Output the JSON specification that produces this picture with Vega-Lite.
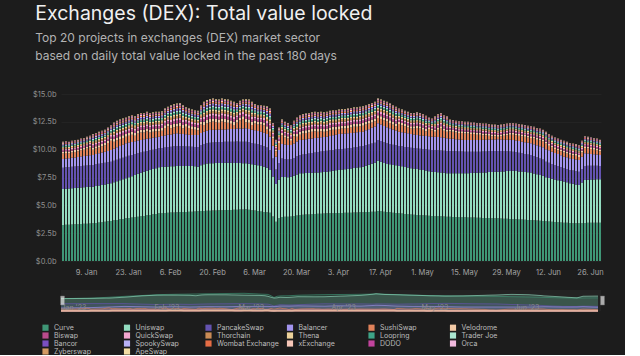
{
"$schema": "https://vega.github.io/schema/vega-lite/v6.json",
"background": "#1c1c1c",
"padding": {"left": 32, "top": 3, "right": 20, "bottom": 0},
"title": {"text": "Exchanges (DEX): Total value locked", "subtitle": ["Top 20 projects in exchanges (DEX) market sector", "based on daily total value locked in the past 180 days"], "anchor": "start", "frame": "bounds", "font": "Inter", "fontSize": 19.5, "fontWeight": 400, "color": "#f0f0f0", "subtitleFont": "Inter", "subtitleFontSize": 12, "subtitleColor": "#b3b3b3", "subtitleLineHeight": 18, "subtitlePadding": 9, "offset": 27, "dx": 3},
"datasets": {
"levels": [
{"L":"A","f":16,"g":13,"h":10,"i":10,"j":8,"k":8,"l":7,"m":6,"n":6,"o":5,"p":5,"q":4,"r":3,"s":2,"t":2},
{"L":"B","f":20,"g":17,"h":14,"i":13,"j":11,"k":11,"l":10,"m":8,"n":8,"o":7,"p":6,"q":5,"r":4,"s":3,"t":3},
{"L":"C","f":25,"g":21,"h":18,"i":16,"j":14,"k":13,"l":12,"m":10,"n":10,"o":9,"p":8,"q":6,"r":5,"s":4,"t":4},
{"L":"D","f":29,"g":25,"h":21,"i":19,"j":17,"k":16,"l":14,"m":12,"n":12,"o":11,"p":9,"q":7,"r":6,"s":5,"t":5}
],
"names": [
{"k":"a","name":"Curve","rank":1},{"k":"b","name":"Uniswap","rank":2},{"k":"c","name":"PancakeSwap","rank":3},{"k":"d","name":"Balancer","rank":4},{"k":"e","name":"SushiSwap","rank":5},{"k":"f","name":"Velodrome","rank":6},{"k":"g","name":"Biswap","rank":7},{"k":"h","name":"QuickSwap","rank":8},{"k":"i","name":"Thorchain","rank":9},{"k":"j","name":"Thena","rank":10},{"k":"k","name":"Loopring","rank":11},{"k":"l","name":"Trader Joe","rank":12},{"k":"m","name":"Bancor","rank":13},{"k":"n","name":"SpookySwap","rank":14},{"k":"o","name":"Wombat Exchange","rank":15},{"k":"p","name":"xExchange","rank":16},{"k":"q","name":"DODO","rank":17},{"k":"r","name":"Orca","rank":18},{"k":"s","name":"Zyberswap","rank":19},{"k":"t","name":"ApeSwap","rank":20}
],
"tvl": [
{"x":"2023-01-01","a":323,"b":324,"c":191,"d":78,"e":49,"L":"A"},
{"x":"2023-01-02","a":325,"b":325,"c":191,"d":79,"e":50,"L":"A"},
{"x":"2023-01-03","a":326,"b":325,"c":192,"d":80,"e":44,"L":"A"},
{"x":"2023-01-04","a":328,"b":326,"c":192,"d":81,"e":48,"L":"A"},
{"x":"2023-01-05","a":329,"b":326,"c":193,"d":82,"e":50,"L":"A"},
{"x":"2023-01-06","a":331,"b":327,"c":193,"d":84,"e":50,"L":"A"},
{"x":"2023-01-07","a":332,"b":328,"c":193,"d":85,"e":57,"L":"A"},
{"x":"2023-01-08","a":334,"b":328,"c":194,"d":86,"e":58,"L":"A"},
{"x":"2023-01-09","a":335,"b":329,"c":194,"d":87,"e":65,"L":"A"},
{"x":"2023-01-10","a":337,"b":329,"c":195,"d":88,"e":71,"L":"A"},
{"x":"2023-01-11","a":338,"b":330,"c":195,"d":89,"e":48,"L":"B"},
{"x":"2023-01-12","a":342,"b":331,"c":195,"d":92,"e":50,"L":"B"},
{"x":"2023-01-13","a":345,"b":333,"c":195,"d":94,"e":53,"L":"B"},
{"x":"2023-01-14","a":349,"b":334,"c":195,"d":97,"e":55,"L":"B"},
{"x":"2023-01-15","a":353,"b":335,"c":194,"d":100,"e":58,"L":"B"},
{"x":"2023-01-16","a":356,"b":337,"c":194,"d":102,"e":71,"L":"B"},
{"x":"2023-01-17","a":360,"b":338,"c":194,"d":105,"e":83,"L":"B"},
{"x":"2023-01-18","a":365,"b":342,"c":194,"d":108,"e":61,"L":"C"},
{"x":"2023-01-19","a":369,"b":347,"c":194,"d":111,"e":64,"L":"C"},
{"x":"2023-01-20","a":374,"b":351,"c":194,"d":114,"e":62,"L":"C"},
{"x":"2023-01-21","a":378,"b":356,"c":194,"d":117,"e":60,"L":"C"},
{"x":"2023-01-22","a":383,"b":360,"c":194,"d":120,"e":58,"L":"C"},
{"x":"2023-01-23","a":387,"b":366,"c":192,"d":119,"e":61,"L":"C"},
{"x":"2023-01-24","a":390,"b":372,"c":189,"d":117,"e":67,"L":"C"},
{"x":"2023-01-25","a":394,"b":379,"c":187,"d":116,"e":49,"L":"C"},
{"x":"2023-01-26","a":398,"b":385,"c":185,"d":114,"e":63,"L":"C"},
{"x":"2023-01-27","a":401,"b":391,"c":182,"d":113,"e":68,"L":"C"},
{"x":"2023-01-28","a":405,"b":397,"c":180,"d":111,"e":62,"L":"C"},
{"x":"2023-01-29","a":410,"b":400,"c":178,"d":110,"e":67,"L":"C"},
{"x":"2023-01-30","a":414,"b":404,"c":176,"d":109,"e":52,"L":"C"},
{"x":"2023-01-31","a":419,"b":407,"c":174,"d":108,"e":52,"L":"C"},
{"x":"2023-02-01","a":423,"b":411,"c":172,"d":106,"e":53,"L":"C"},
{"x":"2023-02-02","a":428,"b":414,"c":170,"d":105,"e":48,"L":"C"},
{"x":"2023-02-03","a":430,"b":414,"c":172,"d":107,"e":47,"L":"C"},
{"x":"2023-02-04","a":431,"b":415,"c":173,"d":108,"e":68,"L":"C"},
{"x":"2023-02-05","a":433,"b":415,"c":175,"d":110,"e":77,"L":"C"},
{"x":"2023-02-06","a":435,"b":415,"c":176,"d":111,"e":55,"L":"D"},
{"x":"2023-02-07","a":436,"b":416,"c":178,"d":113,"e":59,"L":"D"},
{"x":"2023-02-08","a":438,"b":416,"c":179,"d":114,"e":60,"L":"D"},
{"x":"2023-02-09","a":439,"b":415,"c":178,"d":112,"e":68,"L":"D"},
{"x":"2023-02-10","a":440,"b":414,"c":177,"d":110,"e":51,"L":"D"},
{"x":"2023-02-11","a":441,"b":413,"c":175,"d":109,"e":67,"L":"C"},
{"x":"2023-02-12","a":442,"b":412,"c":174,"d":107,"e":60,"L":"C"},
{"x":"2023-02-13","a":443,"b":411,"c":173,"d":105,"e":53,"L":"C"},
{"x":"2023-02-14","a":445,"b":405,"c":175,"d":107,"e":48,"L":"C"},
{"x":"2023-02-15","a":446,"b":400,"c":177,"d":108,"e":44,"L":"C"},
{"x":"2023-02-16","a":448,"b":412,"c":179,"d":110,"e":76,"L":"C"},
{"x":"2023-02-17","a":449,"b":421,"c":181,"d":111,"e":60,"L":"D"},
{"x":"2023-02-18","a":451,"b":424,"c":183,"d":113,"e":66,"L":"D"},
{"x":"2023-02-19","a":452,"b":426,"c":185,"d":114,"e":70,"L":"D"},
{"x":"2023-02-20","a":453,"b":426,"c":186,"d":114,"e":73,"L":"D"},
{"x":"2023-02-21","a":454,"b":426,"c":186,"d":113,"e":68,"L":"D"},
{"x":"2023-02-22","a":455,"b":426,"c":187,"d":113,"e":61,"L":"D"},
{"x":"2023-02-23","a":456,"b":425,"c":188,"d":112,"e":71,"L":"D"},
{"x":"2023-02-24","a":457,"b":425,"c":188,"d":112,"e":65,"L":"D"},
{"x":"2023-02-25","a":458,"b":425,"c":189,"d":111,"e":59,"L":"D"},
{"x":"2023-02-26","a":459,"b":423,"c":190,"d":113,"e":47,"L":"D"},
{"x":"2023-02-27","a":460,"b":421,"c":191,"d":114,"e":36,"L":"D"},
{"x":"2023-02-28","a":461,"b":420,"c":192,"d":116,"e":56,"L":"C"},
{"x":"2023-03-01","a":462,"b":418,"c":192,"d":117,"e":76,"L":"C"},
{"x":"2023-03-02","a":463,"b":416,"c":193,"d":119,"e":84,"L":"C"},
{"x":"2023-03-03","a":464,"b":414,"c":194,"d":120,"e":55,"L":"D"},
{"x":"2023-03-04","a":460,"b":413,"c":193,"d":120,"e":56,"L":"D"},
{"x":"2023-03-05","a":456,"b":412,"c":192,"d":120,"e":42,"L":"D"},
{"x":"2023-03-06","a":453,"b":411,"c":190,"d":120,"e":61,"L":"C"},
{"x":"2023-03-07","a":449,"b":410,"c":189,"d":120,"e":57,"L":"C"},
{"x":"2023-03-08","a":445,"b":409,"c":188,"d":120,"e":63,"L":"C"},
{"x":"2023-03-09","a":441,"b":405,"c":185,"d":120,"e":69,"L":"C"},
{"x":"2023-03-10","a":438,"b":400,"c":182,"d":120,"e":42,"L":"D"},
{"x":"2023-03-11","a":434,"b":384,"c":179,"d":120,"e":45,"L":"D"},
{"x":"2023-03-12","a":400,"b":360,"c":160,"d":115,"e":65,"L":"B"},
{"x":"2023-03-13","a":353,"b":339,"c":130,"d":115,"e":48,"L":"A"},
{"x":"2023-03-14","a":385,"b":345,"c":150,"d":118,"e":62,"L":"B"},
{"x":"2023-03-15","a":395,"b":360,"c":165,"d":130,"e":80,"L":"B"},
{"x":"2023-03-16","a":397,"b":357,"c":163,"d":130,"e":63,"L":"B"},
{"x":"2023-03-17","a":398,"b":354,"c":160,"d":130,"e":58,"L":"B"},
{"x":"2023-03-18","a":400,"b":356,"c":158,"d":128,"e":38,"L":"B"},
{"x":"2023-03-19","a":404,"b":362,"c":160,"d":130,"e":64,"L":"B"},
{"x":"2023-03-20","a":409,"b":369,"c":162,"d":133,"e":42,"L":"C"},
{"x":"2023-03-21","a":413,"b":375,"c":164,"d":135,"e":48,"L":"C"},
{"x":"2023-03-22","a":415,"b":374,"c":167,"d":134,"e":55,"L":"C"},
{"x":"2023-03-23","a":417,"b":374,"c":170,"d":133,"e":56,"L":"C"},
{"x":"2023-03-24","a":418,"b":373,"c":174,"d":132,"e":58,"L":"C"},
{"x":"2023-03-25","a":420,"b":373,"c":177,"d":131,"e":59,"L":"C"},
{"x":"2023-03-26","a":422,"b":372,"c":180,"d":130,"e":61,"L":"C"},
{"x":"2023-03-27","a":424,"b":372,"c":182,"d":129,"e":53,"L":"C"},
{"x":"2023-03-28","a":425,"b":373,"c":185,"d":128,"e":54,"L":"C"},
{"x":"2023-03-29","a":427,"b":373,"c":187,"d":127,"e":46,"L":"C"},
{"x":"2023-03-30","a":428,"b":374,"c":189,"d":126,"e":48,"L":"C"},
{"x":"2023-03-31","a":429,"b":377,"c":188,"d":129,"e":52,"L":"C"},
{"x":"2023-04-01","a":430,"b":380,"c":188,"d":132,"e":50,"L":"C"},
{"x":"2023-04-02","a":431,"b":383,"c":187,"d":134,"e":45,"L":"C"},
{"x":"2023-04-03","a":432,"b":386,"c":186,"d":137,"e":44,"L":"C"},
{"x":"2023-04-04","a":432,"b":389,"c":186,"d":136,"e":47,"L":"C"},
{"x":"2023-04-05","a":433,"b":391,"c":185,"d":136,"e":45,"L":"C"},
{"x":"2023-04-06","a":433,"b":394,"c":185,"d":135,"e":48,"L":"C"},
{"x":"2023-04-07","a":434,"b":397,"c":185,"d":134,"e":50,"L":"C"},
{"x":"2023-04-08","a":435,"b":400,"c":185,"d":133,"e":52,"L":"C"},
{"x":"2023-04-09","a":436,"b":403,"c":186,"d":131,"e":49,"L":"C"},
{"x":"2023-04-10","a":437,"b":406,"c":186,"d":130,"e":51,"L":"C"},
{"x":"2023-04-11","a":438,"b":409,"c":186,"d":129,"e":53,"L":"C"},
{"x":"2023-04-12","a":439,"b":417,"c":185,"d":133,"e":51,"L":"C"},
{"x":"2023-04-13","a":440,"b":424,"c":183,"d":137,"e":51,"L":"C"},
{"x":"2023-04-14","a":442,"b":432,"c":182,"d":140,"e":49,"L":"C"},
{"x":"2023-04-15","a":443,"b":440,"c":180,"d":144,"e":48,"L":"C"},
{"x":"2023-04-16","a":450,"b":451,"c":186,"d":150,"e":48,"L":"C"},
{"x":"2023-04-17","a":447,"b":445,"c":186,"d":148,"e":49,"L":"C"},
{"x":"2023-04-18","a":443,"b":438,"c":185,"d":146,"e":53,"L":"C"},
{"x":"2023-04-19","a":440,"b":432,"c":185,"d":144,"e":54,"L":"C"},
{"x":"2023-04-20","a":437,"b":431,"c":184,"d":140,"e":48,"L":"C"},
{"x":"2023-04-21","a":434,"b":429,"c":182,"d":136,"e":44,"L":"C"},
{"x":"2023-04-22","a":431,"b":428,"c":181,"d":133,"e":37,"L":"C"},
{"x":"2023-04-23","a":428,"b":426,"c":179,"d":129,"e":68,"L":"B"},
{"x":"2023-04-24","a":426,"b":424,"c":180,"d":127,"e":63,"L":"B"},
{"x":"2023-04-25","a":423,"b":421,"c":181,"d":126,"e":59,"L":"B"},
{"x":"2023-04-26","a":421,"b":419,"c":183,"d":124,"e":53,"L":"B"},
{"x":"2023-04-27","a":418,"b":416,"c":184,"d":122,"e":50,"L":"B"},
{"x":"2023-04-28","a":416,"b":414,"c":185,"d":121,"e":54,"L":"B"},
{"x":"2023-04-29","a":414,"b":412,"c":185,"d":121,"e":63,"L":"B"},
{"x":"2023-04-30","a":412,"b":410,"c":186,"d":120,"e":62,"L":"B"},
{"x":"2023-05-01","a":410,"b":407,"c":188,"d":120,"e":55,"L":"B"},
{"x":"2023-05-02","a":408,"b":404,"c":191,"d":120,"e":42,"L":"B"},
{"x":"2023-05-03","a":406,"b":401,"c":193,"d":120,"e":65,"L":"A"},
{"x":"2023-05-04","a":404,"b":398,"c":195,"d":120,"e":58,"L":"A"},
{"x":"2023-05-05","a":403,"b":397,"c":196,"d":119,"e":45,"L":"B"},
{"x":"2023-05-06","a":402,"b":396,"c":196,"d":119,"e":67,"L":"B"},
{"x":"2023-05-07","a":401,"b":395,"c":197,"d":118,"e":79,"L":"B"},
{"x":"2023-05-08","a":400,"b":392,"c":198,"d":116,"e":64,"L":"B"},
{"x":"2023-05-09","a":398,"b":390,"c":200,"d":114,"e":58,"L":"B"},
{"x":"2023-05-10","a":397,"b":391,"c":199,"d":112,"e":66,"L":"A"},
{"x":"2023-05-11","a":396,"b":392,"c":198,"d":111,"e":63,"L":"A"},
{"x":"2023-05-12","a":395,"b":393,"c":197,"d":109,"e":61,"L":"A"},
{"x":"2023-05-13","a":394,"b":394,"c":196,"d":108,"e":58,"L":"A"},
{"x":"2023-05-14","a":393,"b":395,"c":195,"d":106,"e":61,"L":"A"},
{"x":"2023-05-15","a":392,"b":396,"c":194,"d":105,"e":58,"L":"A"},
{"x":"2023-05-16","a":391,"b":398,"c":193,"d":105,"e":58,"L":"A"},
{"x":"2023-05-17","a":390,"b":400,"c":192,"d":105,"e":53,"L":"A"},
{"x":"2023-05-18","a":390,"b":402,"c":190,"d":105,"e":53,"L":"A"},
{"x":"2023-05-19","a":389,"b":404,"c":189,"d":105,"e":48,"L":"A"},
{"x":"2023-05-20","a":388,"b":406,"c":188,"d":105,"e":48,"L":"A"},
{"x":"2023-05-21","a":387,"b":408,"c":188,"d":105,"e":42,"L":"A"},
{"x":"2023-05-22","a":386,"b":410,"c":188,"d":105,"e":41,"L":"A"},
{"x":"2023-05-23","a":386,"b":413,"c":187,"d":105,"e":34,"L":"A"},
{"x":"2023-05-24","a":385,"b":415,"c":187,"d":105,"e":28,"L":"A"},
{"x":"2023-05-25","a":384,"b":417,"c":186,"d":105,"e":28,"L":"A"},
{"x":"2023-05-26","a":383,"b":419,"c":186,"d":105,"e":22,"L":"A"},
{"x":"2023-05-27","a":382,"b":422,"c":183,"d":105,"e":28,"L":"A"},
{"x":"2023-05-28","a":380,"b":425,"c":180,"d":105,"e":35,"L":"A"},
{"x":"2023-05-29","a":379,"b":429,"c":177,"d":105,"e":40,"L":"A"},
{"x":"2023-05-30","a":377,"b":432,"c":174,"d":105,"e":47,"L":"A"},
{"x":"2023-05-31","a":376,"b":435,"c":171,"d":105,"e":48,"L":"A"},
{"x":"2023-06-01","a":375,"b":434,"c":169,"d":105,"e":47,"L":"A"},
{"x":"2023-06-02","a":373,"b":432,"c":167,"d":105,"e":48,"L":"A"},
{"x":"2023-06-03","a":372,"b":431,"c":164,"d":105,"e":48,"L":"A"},
{"x":"2023-06-04","a":371,"b":429,"c":162,"d":105,"e":48,"L":"A"},
{"x":"2023-06-05","a":369,"b":428,"c":160,"d":105,"e":48,"L":"A"},
{"x":"2023-06-06","a":368,"b":426,"c":158,"d":105,"e":48,"L":"A"},
{"x":"2023-06-07","a":366,"b":421,"c":155,"d":106,"e":52,"L":"A"},
{"x":"2023-06-08","a":364,"b":416,"c":152,"d":108,"e":50,"L":"A"},
{"x":"2023-06-09","a":362,"b":410,"c":149,"d":109,"e":55,"L":"A"},
{"x":"2023-06-10","a":360,"b":405,"c":146,"d":110,"e":54,"L":"A"},
{"x":"2023-06-11","a":356,"b":396,"c":140,"d":112,"e":51,"L":"A"},
{"x":"2023-06-12","a":354,"b":392,"c":137,"d":111,"e":41,"L":"A"},
{"x":"2023-06-13","a":352,"b":387,"c":133,"d":110,"e":38,"L":"A"},
{"x":"2023-06-14","a":350,"b":383,"c":130,"d":108,"e":34,"L":"A"},
{"x":"2023-06-15","a":348,"b":378,"c":127,"d":107,"e":35,"L":"A"},
{"x":"2023-06-16","a":346,"b":374,"c":124,"d":106,"e":35,"L":"A"},
{"x":"2023-06-17","a":344,"b":369,"c":120,"d":104,"e":38,"L":"A"},
{"x":"2023-06-18","a":343,"b":364,"c":120,"d":104,"e":34,"L":"A"},
{"x":"2023-06-19","a":341,"b":358,"c":119,"d":104,"e":33,"L":"A"},
{"x":"2023-06-20","a":340,"b":354,"c":119,"d":104,"e":33,"L":"A"},
{"x":"2023-06-21","a":339,"b":349,"c":119,"d":105,"e":33,"L":"A"},
{"x":"2023-06-22","a":338,"b":345,"c":119,"d":105,"e":28,"L":"A"},
{"x":"2023-06-23","a":340,"b":365,"c":122,"d":109,"e":39,"L":"A"},
{"x":"2023-06-24","a":342,"b":386,"c":126,"d":113,"e":48,"L":"A"},
{"x":"2023-06-25","a":343,"b":387,"c":125,"d":110,"e":45,"L":"A"},
{"x":"2023-06-26","a":343,"b":388,"c":124,"d":107,"e":43,"L":"A"},
{"x":"2023-06-27","a":344,"b":389,"c":123,"d":103,"e":41,"L":"A"},
{"x":"2023-06-28","a":344,"b":390,"c":122,"d":100,"e":39,"L":"A"},
{"x":"2023-06-29","a":344,"b":390,"c":120,"d":98,"e":33,"L":"A"}
]
},
"vconcat": [
{
"width": 540, "height": 167,
"data": {"name": "tvl"},
"transform": [
{"lookup": "L", "from": {"data": {"name": "levels"}, "key": "L", "fields": ["f","g","h","i","j","k","l","m","n","o","p","q","r","s","t"]}},
{"fold": ["a","b","c","d","e","f","g","h","i","j","k","l","m","n","o","p","q","r","s","t"], "as": ["k","v"]},
{"lookup": "k", "from": {"data": {"name": "names"}, "key": "k", "fields": ["name","rank"]}}
],
"mark": {"type": "bar", "timeUnitBandSize": 0.72},
"encoding": {
"x": {"field": "x", "timeUnit": "utcyearmonthdate", "type": "temporal", "title": null, "scale": {"domain": [1672531200000, 1688083200000]},
 "axis": {"values": [1673222400000,1674432000000,1675641600000,1676851200000,1678060800000,1679270400000,1680480000000,1681689600000,1682899200000,1684108800000,1685318400000,1686528000000,1687737600000], "format": "%-d. %b", "labelPadding": 7, "labelOffset": 1, "labelColor": "#a3a3a3", "labelFontSize": 7.5, "grid": false, "labelFlush": false}},
"y": {"field": "v", "type": "quantitative", "title": null, "stack": "zero", "scale": {"domain": [0, 1500], "nice": false},
 "axis": {"values": [0,250,500,750,1000,1250,1500], "labelExpr": "'$' + format(datum.value / 100, '.1f') + 'b'", "grid": true, "gridColor": "#292929", "gridWidth": 0.6, "labelPadding": 5, "labelColor": "#8f8f8f", "labelFontSize": 7.5}},
"color": {"field": "name", "type": "nominal",
 "scale": {"domain": ["Curve","Uniswap","PancakeSwap","Balancer","SushiSwap","Velodrome","Biswap","QuickSwap","Thorchain","Thena","Loopring","Trader Joe","Bancor","SpookySwap","Wombat Exchange","xExchange","DODO","Orca","Zyberswap","ApeSwap"],
  "range": ["#3f9676","#93dcc0","#6453b0","#a294ee","#e0825a","#f2c9a5","#b84b8c","#f2a6cf","#c98b55","#ecd19a","#3ea487","#a9e6d0","#7a4fc0","#b7b0f5","#e66d45","#f6c7b8","#c2449e","#f0b9dd","#d39a62","#f1dca3"]},
 "legend": {"orient": "none", "legendX": -19, "legendY": 230, "direction": "horizontal", "columns": 6, "symbolType": "square", "symbolSize": 38, "symbolStrokeWidth": 0, "labelFontSize": 7, "labelColor": "#bdbdbd", "labelFont": "Inter", "rowPadding": 0, "columnPadding": 7.5, "gridAlign": "all", "title": null, "labelOffset": 5, "labelLimit": 100}},
"order": {"field": "rank", "type": "quantitative", "sort": "ascending"}
}
},
{
"width": 540, "height": 21,
"view": {"fill": "#232323", "stroke": null},
"layer": [
{
"data": {"name": "tvl"},
"transform": [
{"lookup": "L", "from": {"data": {"name": "levels"}, "key": "L", "fields": ["f","g","h","i","j","k","l","m","n","o","p","q","r","s","t"]}},
{"fold": ["a","b","c","d","e","f","g","h","i","j","k","l","m","n","o","p","q","r","s","t"], "as": ["k","v"]},
{"lookup": "k", "from": {"data": {"name": "names"}, "key": "k", "fields": ["name","rank"]}}
],
"layer": [
{"mark": {"type": "area", "opacity": 0.18},
 "encoding": {
 "x": {"field": "x", "timeUnit": "utcyearmonthdate", "type": "temporal", "title": null, "scale": {"domain": [1672531200000, 1688083200000]},
  "axis": {"format": "%b '%y", "tickCount": {"interval": "month", "step": 1}, "labelAlign": "left", "labelBaseline": "top", "labelPadding": -8, "labelColor": "#8a8a8a", "labelFontSize": 7, "grid": false, "labelFlush": false, "labelOverlap": false, "zindex": 1}},
 "y": {"field": "v", "type": "quantitative", "stack": null, "scale": {"domain": [0, 540]}, "axis": null},
 "color": {"field": "name", "type": "nominal", "legend": null}
 }},
{"mark": {"type": "line", "strokeWidth": 0.8, "opacity": 0.8},
 "encoding": {
 "x": {"field": "x", "timeUnit": "utcyearmonthdate", "type": "temporal"},
 "y": {"field": "v", "type": "quantitative", "stack": null},
 "color": {"field": "name", "type": "nominal", "legend": null}
 }}
]
},
{
"data": {"values": [{"h": "2023-01-01"}, {"h": "2023-06-30"}]},
"mark": {"type": "tick", "thickness": 4, "size": 9, "color": "#e8e8e8", "stroke": "#888888", "strokeWidth": 0.5, "timeUnitBandPosition": 0},
"encoding": {"x": {"field": "h", "timeUnit": "utcyearmonthdate", "type": "temporal"}}
}
]
}
],
"spacing": 14,
"config": {
"view": {"stroke": null},
"font": "Inter",
"axis": {"labelFont": "Inter", "domain": false, "ticks": false, "title": null}
}
}
